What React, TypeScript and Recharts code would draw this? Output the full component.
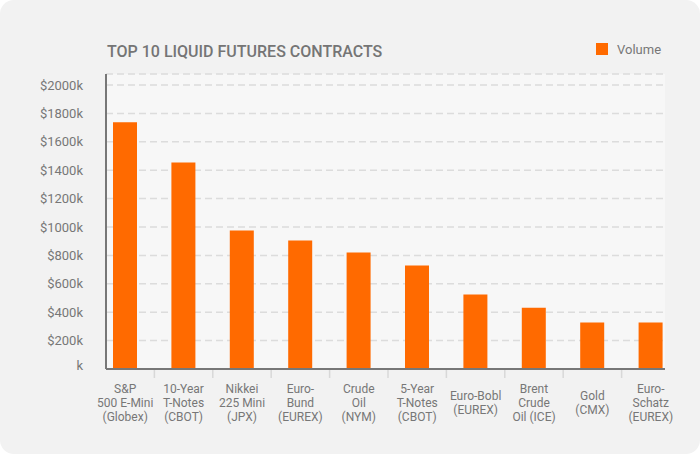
import { BarChart, Bar, XAxis, YAxis, CartesianGrid } from "recharts"

const categories = [
  "S&P\n500 E-Mini\n(Globex)",
  "10-Year\nT-Notes\n(CBOT)",
  "Nikkei\n225 Mini\n(JPX)",
  "Euro-\nBund\n(EUREX)",
  "Crude\nOil\n(NYM)",
  "5-Year\nT-Notes\n(CBOT)",
  "Euro-Bobl\n(EUREX)",
  "Brent\nCrude\nOil (ICE)",
  "Gold\n(CMX)",
  "Euro-\nSchatz\n(EUREX)",
]

const volume = [1738, 1455, 975, 905, 820, 729, 524, 432, 327, 327]

const yTicks = [0, 200, 400, 600, 800, 1000, 1200, 1400, 1600, 1800, 2000]

const data = categories.map((name, i) => ({ name, volume: volume[i] }))

const ORANGE = "#ff6a00"
const FONT = "Roboto, sans-serif"

const CategoryTick = ({ x, y, payload, index }: any) => {
  const lines = String(payload.value).split("\n")
  const first = y + 15.7 + (3 - lines.length) * 7
  const half = payload.offset ?? 0
  return (
    <g>
      {index < categories.length - 1 && (
        <line x1={x + half} x2={x + half} y1={y - 7} y2={y + 1} stroke="#d8d8d8" strokeWidth={1.5} />
      )}
      <text x={x} y={first} textAnchor="middle" fill="#777" fontSize={12} fontFamily={FONT}>
        {lines.map((l, i) => (
          <tspan key={i} x={x} y={first + i * 14}>
            {l}
          </tspan>
        ))}
      </text>
    </g>
  )
}

const ValueTick = ({ x, y, payload }: any) => (
  <text
    x={x}
    y={payload.value === 0 ? y - 4 : y}
    dy="0.355em"
    textAnchor="end"
    fill="#777"
    fontSize={13}
    fontFamily={FONT}
  >
    {payload.value === 0 ? "k" : `$${payload.value}k`}
  </text>
)

export default function App() {
  return (
    <div
      style={{
        position: "absolute",
        top: 0,
        left: 0,
        width: 700,
        height: 454,
        background: "#f2f2f2",
        borderRadius: 14,
        fontFamily: FONT,
      }}
    >
      <div
        style={{
          position: "absolute",
          left: 107,
          top: 44,
          fontSize: 16,
          lineHeight: "16px",
          fontWeight: 500,
          color: "#757575",
          whiteSpace: "nowrap",
        }}
      >
        TOP 10 LIQUID FUTURES CONTRACTS
      </div>
      <div style={{ position: "absolute", left: 596, top: 43, width: 12, height: 12, background: ORANGE }} />
      <div
        style={{
          position: "absolute",
          left: 617,
          top: 42.5,
          fontSize: 13,
          lineHeight: "13px",
          color: "#777",
        }}
      >
        Volume
      </div>
      <div style={{ position: "absolute", top: 0, left: 0 }}>
        <BarChart width={700} height={454} data={data} margin={{ top: 74, right: 35, bottom: 25, left: 6 }}>
          <CartesianGrid vertical={false} stroke="#dcdcdc" strokeWidth={1.5} strokeDasharray="7 4" fill="#f7f7f7" />
          <Bar dataKey="volume" fill={ORANGE} barSize={24} isAnimationActive={false} />
          <XAxis
            dataKey="name"
            height={60}
            padding={{ left: -10, right: -15 }}
            interval={0}
            tickLine={false}
            axisLine={{ stroke: "#777", strokeWidth: 2 }}
            tick={<CategoryTick />}
          />
          <YAxis
            width={100}
            domain={[0, 2000]}
            ticks={yTicks}
            padding={{ top: 11 }}
            tickLine={false}
            tickSize={6}
            tickMargin={17}
            axisLine={{ stroke: "#777", strokeWidth: 2 }}
            tick={<ValueTick />}
          />
        </BarChart>
      </div>
    </div>
  )
}
